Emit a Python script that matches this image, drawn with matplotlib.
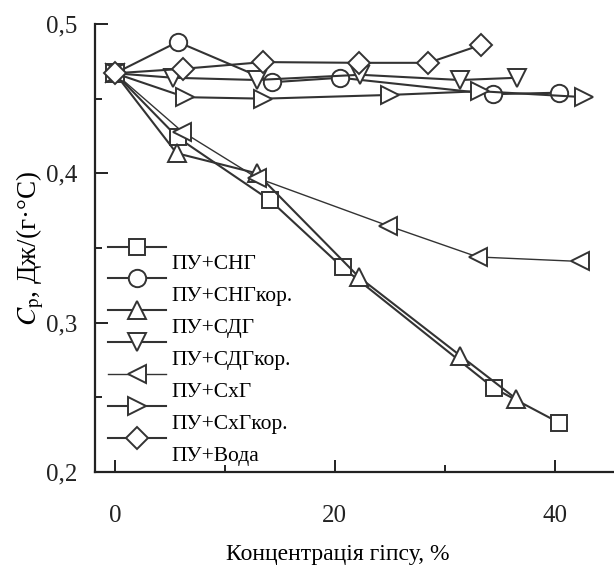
import matplotlib
matplotlib.use('Agg')
import matplotlib.pyplot as plt
from matplotlib.ticker import MultipleLocator, FixedLocator

# Data (concentration of gypsum, %, vs Cp)
x_sng = [0, 5.7, 14.1, 20.7, 34.5, 40.4]
y_sng = [0.467, 0.424, 0.382, 0.337, 0.256, 0.233]

x_sng_kor = [0, 5.7, 14.3, 20.5, 34.4, 40.4]
y_sng_kor = [0.467, 0.488, 0.461, 0.464, 0.453, 0.454]

x_sdg = [0, 5.6, 12.9, 22.2, 31.4, 36.5]
y_sdg = [0.467, 0.4135, 0.400, 0.3305, 0.278, 0.249]

x_sdg_kor = [0, 5.3, 12.9, 22.3, 31.4, 36.6]
y_sdg_kor = [0.467, 0.464, 0.4625, 0.466, 0.4625, 0.464]

x_shg = [0, 6.1, 12.9, 24.8, 33.0, 42.3]
y_shg = [0.467, 0.428, 0.397, 0.365, 0.344, 0.341]

x_shg_kor = [0, 6.4, 13.5, 25.0, 33.2, 42.7]
y_shg_kor = [0.467, 0.451, 0.450, 0.4525, 0.455, 0.451]

x_voda = [0, 6.2, 13.5, 22.2, 28.5, 33.3]
y_voda = [0.467, 0.470, 0.4745, 0.474, 0.474, 0.486]

labels = ['ПУ+СНГ', 'ПУ+СНГкор.', 'ПУ+СДГ', 'ПУ+СДГкор.',
          'ПУ+СхГ', 'ПУ+СхГкор.', 'ПУ+Вода']

plt.rcParams['font.family'] = ['Liberation Serif', 'DejaVu Serif']
plt.rcParams['mathtext.fontset'] = 'stix'

fig = plt.figure(figsize=(6.14, 5.68), dpi=100)
ax = fig.add_axes([95 / 614, 96 / 568, 519 / 614, 448 / 568])

lc = '#333333'
series = [
    (x_sng, y_sng, 's', 11),
    (x_sng_kor, y_sng_kor, 'o', 12.5),
    (x_sdg, y_sdg, '^', 13.5),
    (x_sdg_kor, y_sdg_kor, 'v', 13.5),
    (x_shg, y_shg, '<', 13.5),
    (x_shg_kor, y_shg_kor, '>', 13.5),
    (x_voda, y_voda, 'D', 11),
]

handles = []
for (xs, ys, m, ms), lab in zip(series, labels):
    lw = 1.0 if m == '<' else 1.5
    h, = ax.plot(xs, ys, color=lc, lw=lw, marker=m, markersize=ms,
                 markerfacecolor='white', markeredgecolor=lc,
                 markeredgewidth=1.4, label=lab)
    handles.append(h)

# Axes limits and ticks
ax.set_xlim(-1.82, 45.4)
ax.set_ylim(0.2, 0.5)
ax.xaxis.set_major_locator(FixedLocator([0, 20, 40]))
ax.xaxis.set_minor_locator(FixedLocator([10, 30]))
ax.yaxis.set_major_locator(MultipleLocator(0.1))
ax.yaxis.set_minor_locator(MultipleLocator(0.05))
ax.yaxis.set_major_formatter(lambda v, p: f'{v:.1f}'.replace('.', ','))

ax.tick_params(which='both', direction='in', width=1.4, colors='#222222',
               labelsize=18)
ax.tick_params(which='major', length=9)
ax.tick_params(which='minor', length=5)
ax.tick_params(axis='x', pad=24)
ax.tick_params(axis='y', pad=13)

for s in ['top', 'right']:
    ax.spines[s].set_visible(False)
for s in ['left', 'bottom']:
    ax.spines[s].set_linewidth(1.6)
    ax.spines[s].set_color('#222222')

ax.set_xlabel('Концентрація гіпсу, %', fontsize=17, labelpad=12, x=0.468)
ax.set_ylabel(r'$C_\mathrm{p}$, Дж/(г·°С)', fontsize=19.5, labelpad=0)

# Legend with labels shifted half a row down
leg = ax.legend(handles=handles, loc='upper left',
                bbox_to_anchor=(0.025, 0.52), frameon=False,
                borderaxespad=0, borderpad=0, handlelength=2.7,
                handletextpad=0.25, labelspacing=0.55, fontsize=15.5)
for t in leg.get_texts():
    t.set_y(-15)

fig.savefig('out.png', dpi=100)
